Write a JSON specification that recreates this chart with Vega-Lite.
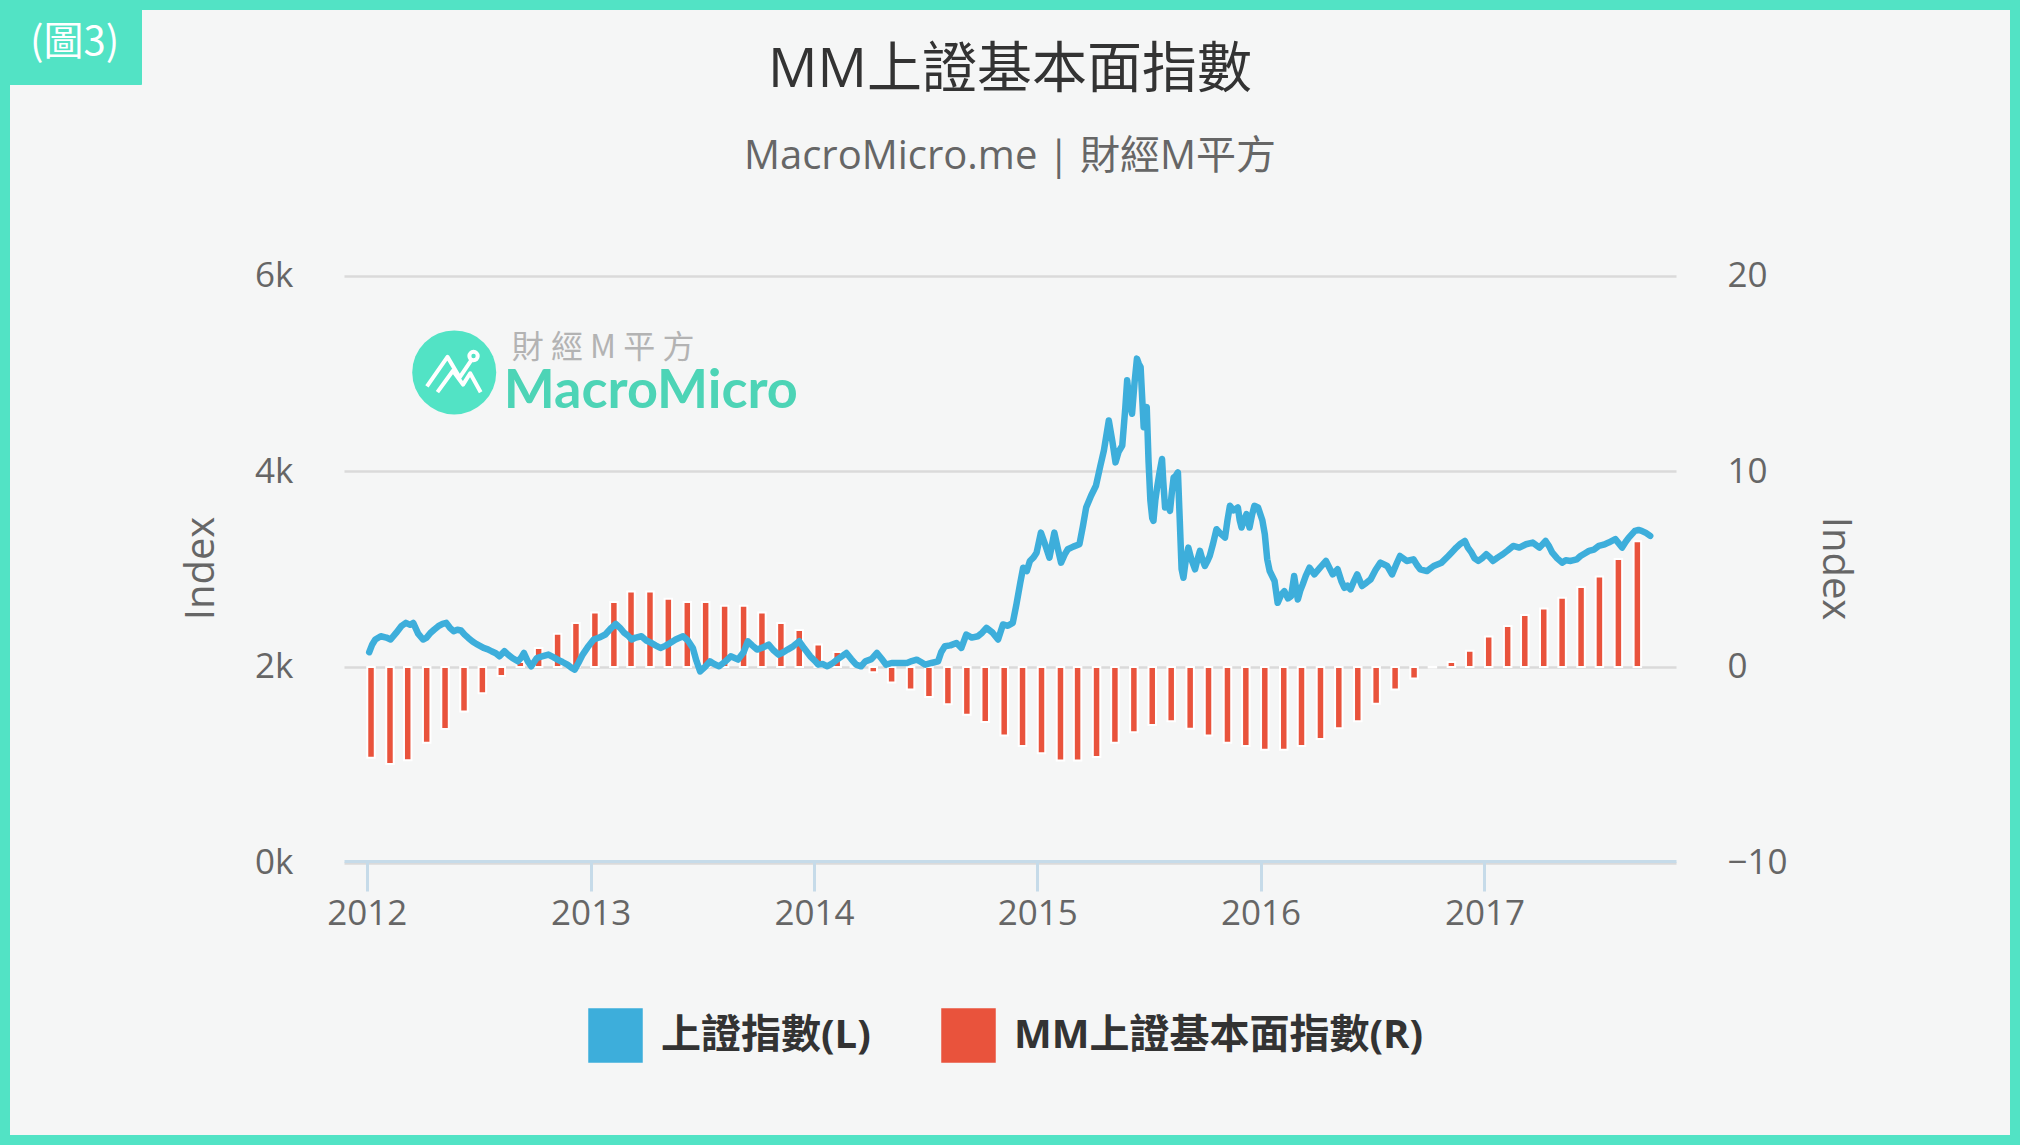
{
  "$schema": "https://vega.github.io/schema/vega-lite/v6.json",
  "width": 2020,
  "height": 1145,
  "autosize": {"type": "none"},
  "padding": 0,
  "background": "#f5f6f6",
  "view": {"fill": "#f5f6f6", "stroke": "#52e3c5", "strokeWidth": 20},
  "title": {
    "text": "MM上證基本面指數",
    "subtitle": "MacroMicro.me | 財經M平方",
    "anchor": "middle",
    "frame": "group",
    "offset": -178,
    "font": "Open Sans, Noto Sans CJK TC",
    "fontSize": 55,
    "fontWeight": "normal",
    "color": "#333333",
    "subtitleFont": "Open Sans, Noto Sans CJK TC",
    "subtitleFontSize": 40,
    "subtitleColor": "#666666",
    "subtitlePadding": 38
  },
  "datasets": {
    "mm": [
      {"date": "2012-01-08", "mm": -4.64}, {"date": "2012-02-08", "mm": -4.97}, {"date": "2012-03-08", "mm": -4.77},
      {"date": "2012-04-08", "mm": -3.88}, {"date": "2012-05-08", "mm": -3.17}, {"date": "2012-06-08", "mm": -2.28},
      {"date": "2012-07-08", "mm": -1.35}, {"date": "2012-08-08", "mm": -0.46}, {"date": "2012-09-08", "mm": 0.25},
      {"date": "2012-10-08", "mm": 0.96}, {"date": "2012-11-08", "mm": 1.69}, {"date": "2012-12-08", "mm": 2.24},
      {"date": "2013-01-08", "mm": 2.78}, {"date": "2013-02-08", "mm": 3.32}, {"date": "2013-03-08", "mm": 3.86},
      {"date": "2013-04-08", "mm": 3.86}, {"date": "2013-05-08", "mm": 3.49}, {"date": "2013-06-08", "mm": 3.32},
      {"date": "2013-07-08", "mm": 3.32}, {"date": "2013-08-08", "mm": 3.12}, {"date": "2013-09-08", "mm": 3.12},
      {"date": "2013-10-08", "mm": 2.78}, {"date": "2013-11-08", "mm": 2.24}, {"date": "2013-12-08", "mm": 1.89},
      {"date": "2014-01-08", "mm": 1.15}, {"date": "2014-02-08", "mm": 0.76}, {"date": "2014-03-08", "mm": 0.03},
      {"date": "2014-04-08", "mm": -0.27}, {"date": "2014-05-08", "mm": -0.8}, {"date": "2014-06-08", "mm": -1.15},
      {"date": "2014-07-08", "mm": -1.54}, {"date": "2014-08-08", "mm": -1.91}, {"date": "2014-09-08", "mm": -2.45},
      {"date": "2014-10-08", "mm": -2.82}, {"date": "2014-11-08", "mm": -3.51}, {"date": "2014-12-08", "mm": -4.05},
      {"date": "2015-01-08", "mm": -4.42}, {"date": "2015-02-08", "mm": -4.79}, {"date": "2015-03-08", "mm": -4.79},
      {"date": "2015-04-08", "mm": -4.61}, {"date": "2015-05-08", "mm": -3.88}, {"date": "2015-06-08", "mm": -3.34},
      {"date": "2015-07-08", "mm": -2.97}, {"date": "2015-08-08", "mm": -2.78}, {"date": "2015-09-08", "mm": -3.16},
      {"date": "2015-10-08", "mm": -3.51}, {"date": "2015-11-08", "mm": -3.88}, {"date": "2015-12-08", "mm": -4.05},
      {"date": "2016-01-08", "mm": -4.23}, {"date": "2016-02-08", "mm": -4.23}, {"date": "2016-03-08", "mm": -4.05},
      {"date": "2016-04-08", "mm": -3.69}, {"date": "2016-05-08", "mm": -3.14}, {"date": "2016-06-08", "mm": -2.78},
      {"date": "2016-07-08", "mm": -1.88}, {"date": "2016-08-08", "mm": -1.15}, {"date": "2016-09-08", "mm": -0.59},
      {"date": "2016-10-08", "mm": -0.03}, {"date": "2016-11-08", "mm": 0.25}, {"date": "2016-12-08", "mm": 0.83},
      {"date": "2017-01-08", "mm": 1.55}, {"date": "2017-02-08", "mm": 2.09}, {"date": "2017-03-08", "mm": 2.65},
      {"date": "2017-04-08", "mm": 2.99}, {"date": "2017-05-08", "mm": 3.54}, {"date": "2017-06-08", "mm": 4.08},
      {"date": "2017-07-08", "mm": 4.62}, {"date": "2017-08-08", "mm": 5.52}, {"date": "2017-09-08", "mm": 6.43}
    ],
    "sse": [
      {"date": "2012-01-05", "value": 2150}, {"date": "2012-01-10", "value": 2230}, {"date": "2012-01-15", "value": 2280},
      {"date": "2012-01-24", "value": 2313}, {"date": "2012-02-02", "value": 2300}, {"date": "2012-02-09", "value": 2280},
      {"date": "2012-02-18", "value": 2347}, {"date": "2012-02-27", "value": 2420}, {"date": "2012-03-05", "value": 2450},
      {"date": "2012-03-12", "value": 2430}, {"date": "2012-03-17", "value": 2450}, {"date": "2012-03-25", "value": 2340},
      {"date": "2012-04-02", "value": 2280}, {"date": "2012-04-08", "value": 2300}, {"date": "2012-04-14", "value": 2347},
      {"date": "2012-04-20", "value": 2380}, {"date": "2012-04-27", "value": 2416}, {"date": "2012-05-04", "value": 2440},
      {"date": "2012-05-10", "value": 2450}, {"date": "2012-05-16", "value": 2400}, {"date": "2012-05-22", "value": 2365},
      {"date": "2012-05-28", "value": 2380}, {"date": "2012-06-03", "value": 2372}, {"date": "2012-06-09", "value": 2330},
      {"date": "2012-06-15", "value": 2296}, {"date": "2012-06-22", "value": 2260}, {"date": "2012-06-28", "value": 2235},
      {"date": "2012-07-04", "value": 2215}, {"date": "2012-07-10", "value": 2194}, {"date": "2012-07-17", "value": 2180},
      {"date": "2012-07-23", "value": 2160}, {"date": "2012-07-30", "value": 2140}, {"date": "2012-08-05", "value": 2108},
      {"date": "2012-08-13", "value": 2160}, {"date": "2012-08-20", "value": 2120}, {"date": "2012-08-26", "value": 2091},
      {"date": "2012-09-04", "value": 2057}, {"date": "2012-09-09", "value": 2090}, {"date": "2012-09-14", "value": 2142},
      {"date": "2012-09-20", "value": 2060}, {"date": "2012-09-26", "value": 2006}, {"date": "2012-10-05", "value": 2091},
      {"date": "2012-10-15", "value": 2110}, {"date": "2012-10-24", "value": 2126}, {"date": "2012-11-01", "value": 2100},
      {"date": "2012-11-08", "value": 2075}, {"date": "2012-11-16", "value": 2050}, {"date": "2012-11-24", "value": 2023},
      {"date": "2012-12-01", "value": 1990}, {"date": "2012-12-06", "value": 1972}, {"date": "2012-12-12", "value": 2040},
      {"date": "2012-12-19", "value": 2126}, {"date": "2012-12-27", "value": 2200}, {"date": "2013-01-06", "value": 2280},
      {"date": "2013-01-15", "value": 2300}, {"date": "2013-01-25", "value": 2331}, {"date": "2013-02-04", "value": 2400},
      {"date": "2013-02-11", "value": 2440}, {"date": "2013-02-18", "value": 2400}, {"date": "2013-02-25", "value": 2347},
      {"date": "2013-03-03", "value": 2320}, {"date": "2013-03-09", "value": 2280}, {"date": "2013-03-16", "value": 2300},
      {"date": "2013-03-25", "value": 2313}, {"date": "2013-04-02", "value": 2270}, {"date": "2013-04-10", "value": 2245},
      {"date": "2013-04-17", "value": 2220}, {"date": "2013-04-25", "value": 2194}, {"date": "2013-05-03", "value": 2215},
      {"date": "2013-05-11", "value": 2245}, {"date": "2013-05-20", "value": 2280}, {"date": "2013-06-01", "value": 2313},
      {"date": "2013-06-09", "value": 2270}, {"date": "2013-06-17", "value": 2194}, {"date": "2013-06-23", "value": 2060},
      {"date": "2013-06-29", "value": 1954}, {"date": "2013-07-07", "value": 2000}, {"date": "2013-07-15", "value": 2057},
      {"date": "2013-07-22", "value": 2030}, {"date": "2013-07-30", "value": 2006}, {"date": "2013-08-08", "value": 2050},
      {"date": "2013-08-18", "value": 2108}, {"date": "2013-08-30", "value": 2075}, {"date": "2013-09-08", "value": 2150},
      {"date": "2013-09-15", "value": 2262}, {"date": "2013-09-22", "value": 2220}, {"date": "2013-09-30", "value": 2177},
      {"date": "2013-10-10", "value": 2200}, {"date": "2013-10-19", "value": 2228}, {"date": "2013-10-27", "value": 2170},
      {"date": "2013-11-04", "value": 2126}, {"date": "2013-11-12", "value": 2150}, {"date": "2013-11-19", "value": 2177},
      {"date": "2013-11-28", "value": 2210}, {"date": "2013-12-08", "value": 2262}, {"date": "2013-12-16", "value": 2190},
      {"date": "2013-12-26", "value": 2108}, {"date": "2014-01-03", "value": 2060}, {"date": "2014-01-08", "value": 2023},
      {"date": "2014-01-15", "value": 2030}, {"date": "2014-01-23", "value": 2006}, {"date": "2014-02-01", "value": 2040},
      {"date": "2014-02-08", "value": 2075}, {"date": "2014-02-16", "value": 2110}, {"date": "2014-02-23", "value": 2142},
      {"date": "2014-03-03", "value": 2080}, {"date": "2014-03-11", "value": 2023}, {"date": "2014-03-19", "value": 2006},
      {"date": "2014-03-26", "value": 2057}, {"date": "2014-04-05", "value": 2080}, {"date": "2014-04-14", "value": 2142},
      {"date": "2014-04-22", "value": 2080}, {"date": "2014-04-29", "value": 2023}, {"date": "2014-05-08", "value": 2040},
      {"date": "2014-05-18", "value": 2040}, {"date": "2014-06-02", "value": 2040}, {"date": "2014-06-10", "value": 2060},
      {"date": "2014-06-18", "value": 2074}, {"date": "2014-06-25", "value": 2050}, {"date": "2014-07-02", "value": 2023},
      {"date": "2014-07-12", "value": 2040}, {"date": "2014-07-23", "value": 2057}, {"date": "2014-07-28", "value": 2150},
      {"date": "2014-08-03", "value": 2211}, {"date": "2014-08-12", "value": 2220}, {"date": "2014-08-22", "value": 2245},
      {"date": "2014-08-30", "value": 2194}, {"date": "2014-09-07", "value": 2331}, {"date": "2014-09-16", "value": 2300},
      {"date": "2014-09-26", "value": 2313}, {"date": "2014-10-03", "value": 2350}, {"date": "2014-10-10", "value": 2399},
      {"date": "2014-10-20", "value": 2350}, {"date": "2014-10-29", "value": 2280}, {"date": "2014-11-06", "value": 2434},
      {"date": "2014-11-14", "value": 2420}, {"date": "2014-11-22", "value": 2450}, {"date": "2014-11-28", "value": 2639},
      {"date": "2014-12-04", "value": 2850}, {"date": "2014-12-09", "value": 3014}, {"date": "2014-12-15", "value": 2980},
      {"date": "2014-12-20", "value": 3083}, {"date": "2014-12-26", "value": 3120}, {"date": "2014-12-31", "value": 3168},
      {"date": "2015-01-07", "value": 3373}, {"date": "2015-01-14", "value": 3250}, {"date": "2015-01-21", "value": 3117},
      {"date": "2015-01-29", "value": 3373}, {"date": "2015-02-04", "value": 3200}, {"date": "2015-02-09", "value": 3066},
      {"date": "2015-02-15", "value": 3150}, {"date": "2015-02-20", "value": 3203}, {"date": "2015-03-01", "value": 3230},
      {"date": "2015-03-11", "value": 3254}, {"date": "2015-03-17", "value": 3450}, {"date": "2015-03-22", "value": 3630},
      {"date": "2015-03-30", "value": 3750}, {"date": "2015-04-07", "value": 3852}, {"date": "2015-04-14", "value": 4050},
      {"date": "2015-04-20", "value": 4212}, {"date": "2015-04-28", "value": 4519}, {"date": "2015-05-04", "value": 4300},
      {"date": "2015-05-09", "value": 4091}, {"date": "2015-05-14", "value": 4200}, {"date": "2015-05-20", "value": 4263},
      {"date": "2015-05-25", "value": 4650}, {"date": "2015-05-28", "value": 4930}, {"date": "2015-06-01", "value": 4700},
      {"date": "2015-06-05", "value": 4588}, {"date": "2015-06-09", "value": 4900}, {"date": "2015-06-13", "value": 5152},
      {"date": "2015-06-16", "value": 5100}, {"date": "2015-06-19", "value": 5066}, {"date": "2015-06-22", "value": 4700},
      {"date": "2015-06-24", "value": 4451}, {"date": "2015-06-27", "value": 4560}, {"date": "2015-06-29", "value": 4656},
      {"date": "2015-07-02", "value": 4100}, {"date": "2015-07-05", "value": 3699}, {"date": "2015-07-08", "value": 3520},
      {"date": "2015-07-10", "value": 3493}, {"date": "2015-07-13", "value": 3700}, {"date": "2015-07-16", "value": 3835},
      {"date": "2015-07-20", "value": 3990}, {"date": "2015-07-24", "value": 4126}, {"date": "2015-07-26", "value": 3900},
      {"date": "2015-07-29", "value": 3630}, {"date": "2015-08-02", "value": 3680}, {"date": "2015-08-06", "value": 3596},
      {"date": "2015-08-09", "value": 3780}, {"date": "2015-08-12", "value": 3938}, {"date": "2015-08-15", "value": 3950},
      {"date": "2015-08-19", "value": 3989}, {"date": "2015-08-22", "value": 3500}, {"date": "2015-08-25", "value": 3000},
      {"date": "2015-08-28", "value": 2912}, {"date": "2015-09-01", "value": 3100}, {"date": "2015-09-05", "value": 3220},
      {"date": "2015-09-10", "value": 3100}, {"date": "2015-09-16", "value": 2998}, {"date": "2015-09-20", "value": 3100},
      {"date": "2015-09-24", "value": 3186}, {"date": "2015-09-28", "value": 3100}, {"date": "2015-10-02", "value": 3032},
      {"date": "2015-10-06", "value": 3080}, {"date": "2015-10-10", "value": 3134}, {"date": "2015-10-15", "value": 3250},
      {"date": "2015-10-21", "value": 3408}, {"date": "2015-10-28", "value": 3360}, {"date": "2015-11-04", "value": 3322},
      {"date": "2015-11-08", "value": 3500}, {"date": "2015-11-12", "value": 3647}, {"date": "2015-11-18", "value": 3600},
      {"date": "2015-11-25", "value": 3630}, {"date": "2015-11-28", "value": 3500}, {"date": "2015-12-01", "value": 3425},
      {"date": "2015-12-05", "value": 3500}, {"date": "2015-12-09", "value": 3562}, {"date": "2015-12-14", "value": 3425},
      {"date": "2015-12-18", "value": 3550}, {"date": "2015-12-22", "value": 3647}, {"date": "2015-12-28", "value": 3630},
      {"date": "2016-01-04", "value": 3500}, {"date": "2016-01-08", "value": 3357}, {"date": "2016-01-12", "value": 3100},
      {"date": "2016-01-16", "value": 2980}, {"date": "2016-01-24", "value": 2878}, {"date": "2016-01-29", "value": 2655},
      {"date": "2016-02-04", "value": 2740}, {"date": "2016-02-09", "value": 2775}, {"date": "2016-02-15", "value": 2700},
      {"date": "2016-02-20", "value": 2724}, {"date": "2016-02-25", "value": 2929}, {"date": "2016-03-02", "value": 2690},
      {"date": "2016-03-06", "value": 2780}, {"date": "2016-03-10", "value": 2844}, {"date": "2016-03-15", "value": 2930},
      {"date": "2016-03-21", "value": 3014}, {"date": "2016-03-29", "value": 2946}, {"date": "2016-04-08", "value": 3020},
      {"date": "2016-04-17", "value": 3083}, {"date": "2016-04-28", "value": 2946}, {"date": "2016-05-06", "value": 2998},
      {"date": "2016-05-12", "value": 2880}, {"date": "2016-05-17", "value": 2809}, {"date": "2016-05-22", "value": 2830},
      {"date": "2016-05-27", "value": 2793}, {"date": "2016-06-02", "value": 2880}, {"date": "2016-06-07", "value": 2946},
      {"date": "2016-06-15", "value": 2827}, {"date": "2016-06-22", "value": 2860}, {"date": "2016-06-29", "value": 2895},
      {"date": "2016-07-07", "value": 2990}, {"date": "2016-07-15", "value": 3066}, {"date": "2016-07-26", "value": 3032},
      {"date": "2016-08-03", "value": 2946}, {"date": "2016-08-10", "value": 3050}, {"date": "2016-08-16", "value": 3134},
      {"date": "2016-08-27", "value": 3083}, {"date": "2016-09-07", "value": 3100}, {"date": "2016-09-13", "value": 3040},
      {"date": "2016-09-18", "value": 2998}, {"date": "2016-09-29", "value": 2980}, {"date": "2016-10-10", "value": 3032},
      {"date": "2016-10-23", "value": 3066}, {"date": "2016-11-03", "value": 3134}, {"date": "2016-11-10", "value": 3180},
      {"date": "2016-11-16", "value": 3220}, {"date": "2016-11-23", "value": 3260}, {"date": "2016-11-30", "value": 3288},
      {"date": "2016-12-05", "value": 3220}, {"date": "2016-12-11", "value": 3168}, {"date": "2016-12-16", "value": 3110},
      {"date": "2016-12-22", "value": 3083}, {"date": "2016-12-28", "value": 3110}, {"date": "2017-01-04", "value": 3152},
      {"date": "2017-01-10", "value": 3120}, {"date": "2017-01-15", "value": 3083}, {"date": "2017-01-23", "value": 3120},
      {"date": "2017-01-31", "value": 3152}, {"date": "2017-02-08", "value": 3190}, {"date": "2017-02-17", "value": 3237},
      {"date": "2017-02-27", "value": 3220}, {"date": "2017-03-10", "value": 3254}, {"date": "2017-03-21", "value": 3271},
      {"date": "2017-04-01", "value": 3220}, {"date": "2017-04-11", "value": 3288}, {"date": "2017-04-17", "value": 3230},
      {"date": "2017-04-22", "value": 3168}, {"date": "2017-04-30", "value": 3110}, {"date": "2017-05-08", "value": 3066},
      {"date": "2017-05-14", "value": 3090}, {"date": "2017-05-22", "value": 3083}, {"date": "2017-06-01", "value": 3100},
      {"date": "2017-06-07", "value": 3134}, {"date": "2017-06-14", "value": 3160}, {"date": "2017-06-21", "value": 3186},
      {"date": "2017-06-29", "value": 3200}, {"date": "2017-07-07", "value": 3237}, {"date": "2017-07-15", "value": 3250},
      {"date": "2017-07-23", "value": 3271}, {"date": "2017-08-03", "value": 3306}, {"date": "2017-08-09", "value": 3260},
      {"date": "2017-08-14", "value": 3220}, {"date": "2017-08-20", "value": 3280}, {"date": "2017-08-25", "value": 3322},
      {"date": "2017-09-04", "value": 3391}, {"date": "2017-09-10", "value": 3400}, {"date": "2017-09-15", "value": 3391},
      {"date": "2017-09-22", "value": 3370}, {"date": "2017-09-29", "value": 3340}
    ]
  },
  "layer": [
    {
      "data": {"name": "mm"},
      "mark": {"type": "bar", "size": 7.5, "stroke": "#ffffff", "strokeWidth": 2},
      "encoding": {
        "x": {
          "field": "date",
          "type": "temporal",
          "scale": {"type": "utc", "domain": [{"year": 2011, "month": 12, "date": 3, "utc": true}, {"year": 2017, "month": 11, "date": 2, "utc": true}], "range": [344, 1676]},
          "axis": null
        },
        "y": {
          "field": "mm",
          "type": "quantitative",
          "scale": {"domain": [-10, 20], "range": [862.5, 275.7], "nice": false, "zero": false},
          "axis": {
            "orient": "right",
            "offset": -344,
            "values": [-10, 0, 10, 20],
            "format": "d",
            "grid": false,
            "domain": false,
            "ticks": false,
            "tickSize": 0,
            "labelPadding": 51,
            "labelFontSize": 35,
            "labelColor": "#666666",
            "title": "Index",
            "titleFontSize": 40,
            "titleFontWeight": "normal",
            "titleColor": "#666666",
            "titleAngle": 90,
            "titleX": 158,
            "titleY": 568,
            "titleAlign": "center",
            "titleBaseline": "middle"
          }
        },
        "color": {
          "datum": "MM上證基本面指數(R)",
          "scale": {"domain": ["上證指數(L)", "MM上證基本面指數(R)"], "range": ["#3daedb", "#e9533c"]},
          "legend": {
            "orient": "none",
            "legendX": 588,
            "legendY": 1008,
            "direction": "horizontal",
            "title": null,
            "symbolSize": 2809,
            "labelFont": "Open Sans, Noto Sans CJK TC",
            "labelFontSize": 40,
            "labelFontWeight": "bold",
            "labelColor": "#333333",
            "labelLimit": 700,
            "labelOffset": 18,
            "columnPadding": 68,
            "encode": {
              "symbols": {
                "fill": {"condition": {"test": "datum.value === '上證指數(L)'", "value": "#3daedb"}, "value": "#e9533c"},
                "stroke": {"condition": {"test": "datum.value === '上證指數(L)'", "value": "#3daedb"}, "value": "#e9533c"},
                "strokeWidth": {"value": 0},
                "opacity": {"value": 1}
              }
            }
          }
        }
      }
    },
    {
      "resolve": {"axis": {"x": "independent", "y": "independent"}},
      "layer": [
        {
          "data": {"values": [{}]},
          "mark": {"type": "point", "shape": "circle", "filled": true, "color": "#52e3c5", "opacity": 1, "size": 7056},
          "encoding": {
            "x": {"datum": {"year": 2012, "month": 5, "date": 23, "utc": true}, "type": "temporal", "axis": null},
            "y": {"datum": 5011, "type": "quantitative", "scale": {"domain": [0, 6000], "range": [862.5, 275.7], "nice": false}, "axis": null}
          }
        },
        {
          "data": {"values": [{}]},
          "mark": {
            "type": "point",
            "shape": "M-0.65,0.33L-0.16,-0.37L0.13,0.12L0.4,-0.28M0.36,-0.39A0.1,0.1,0,1,0,0.56,-0.39A0.1,0.1,0,1,0,0.36,-0.39M-0.4,0.47L-0.03,-0.04L0.21,0.29L0.38,0.02L0.63,0.47",
            "filled": false,
            "stroke": "#ffffff",
            "strokeWidth": 4,
            "strokeJoin": "round",
            "opacity": 1,
            "size": 7056
          },
          "encoding": {
            "x": {"datum": {"year": 2012, "month": 5, "date": 23, "utc": true}, "type": "temporal", "axis": null},
            "y": {"datum": 5011, "type": "quantitative", "axis": null}
          }
        },
        {
          "data": {"values": [{}]},
          "mark": {"type": "text", "text": "財 經 M 平 方", "align": "left", "baseline": "alphabetic", "font": "Noto Sans CJK TC", "fontSize": 32, "color": "#b3b3b3"},
          "encoding": {
            "x": {"datum": {"year": 2012, "month": 8, "date": 25, "utc": true}, "type": "temporal", "axis": null},
            "y": {"datum": 5160, "type": "quantitative", "axis": null}
          }
        },
        {
          "data": {"values": [{}]},
          "mark": {"type": "text", "text": "MacroMicro", "align": "left", "baseline": "alphabetic", "font": "Lato", "fontWeight": "bold", "fontSize": 54, "color": "#4dd4b6"},
          "encoding": {
            "x": {"datum": {"year": 2012, "month": 8, "date": 12, "utc": true}, "type": "temporal", "axis": null},
            "y": {"datum": 4650, "type": "quantitative", "axis": null}
          }
        },
        {
          "data": {"name": "sse"},
          "mark": {"type": "line", "strokeWidth": 6.5, "strokeJoin": "round", "strokeCap": "round"},
          "encoding": {
            "x": {
              "field": "date",
              "type": "temporal",
              "scale": {"type": "utc", "domain": [{"year": 2011, "month": 12, "date": 3, "utc": true}, {"year": 2017, "month": 11, "date": 2, "utc": true}], "range": [344, 1676]},
              "axis": {
                "orient": "bottom",
                "offset": -284,
                "values": [{"year": 2012, "utc": true}, {"year": 2013, "utc": true}, {"year": 2014, "utc": true}, {"year": 2015, "utc": true}, {"year": 2016, "utc": true}, {"year": 2017, "utc": true}],
                "format": "%Y",
                "title": null,
                "grid": false,
                "domainColor": "#c6dbe9",
                "domainWidth": 3,
                "tickColor": "#c6dbe9",
                "tickWidth": 3,
                "tickSize": 30,
                "labelPadding": 5,
                "labelFontSize": 35,
                "labelColor": "#666666",
                "labelFlush": false,
                "labelOverlap": false
              }
            },
            "y": {
              "field": "value",
              "type": "quantitative",
              "scale": {"domain": [0, 6000], "range": [862.5, 275.7], "nice": false},
              "axis": {
                "orient": "left",
                "offset": -344,
                "values": [0, 2000, 4000, 6000],
                "format": "~s",
                "grid": true,
                "gridColor": "#dadada",
                "gridWidth": 2.5,
                "domain": false,
                "ticks": false,
                "tickSize": 0,
                "labelPadding": 51,
                "labelFontSize": 35,
                "labelColor": "#666666",
                "title": "Index",
                "titleFontSize": 40,
                "titleFontWeight": "normal",
                "titleColor": "#666666",
                "titleAngle": -90,
                "titleX": -143,
                "titleY": 568,
                "titleAlign": "center",
                "titleBaseline": "middle"
              }
            },
            "color": {
              "datum": "上證指數(L)",
              "scale": {"domain": ["上證指數(L)", "MM上證基本面指數(R)"], "range": ["#3daedb", "#e9533c"]}
            }
          }
        },
        {
          "data": {"values": [{"tag": "(圖3)"}]},
          "mark": {"type": "point", "opacity": 0},
          "encoding": {
            "x": {"datum": {"year": 2013, "month": 1, "date": 1, "utc": true}, "type": "temporal", "axis": null},
            "y": {"datum": 3000, "type": "quantitative", "axis": null},
            "shape": {
              "field": "tag",
              "type": "nominal",
              "legend": {
                "orient": "none",
                "legendX": -31,
                "legendY": 2,
                "title": null,
                "fillColor": "#52e3c5",
                "strokeColor": "#52e3c5",
                "padding": 21,
                "labelFont": "Noto Sans CJK TC",
                "labelFontSize": 40,
                "labelColor": "#ffffff",
                "labelOffset": 0,
                "symbolSize": 1,
                "symbolOpacity": 0,
                "symbolStrokeWidth": 0
              }
            }
          }
        }
      ]
    }
  ],
  "resolve": {
    "scale": {"y": "independent"},
    "axis": {"x": "independent", "y": "independent"}
  },
  "config": {
    "font": "Open Sans, Noto Sans CJK TC",
    "axis": {"labelFont": "Open Sans", "titleFont": "Open Sans"}
  }
}
